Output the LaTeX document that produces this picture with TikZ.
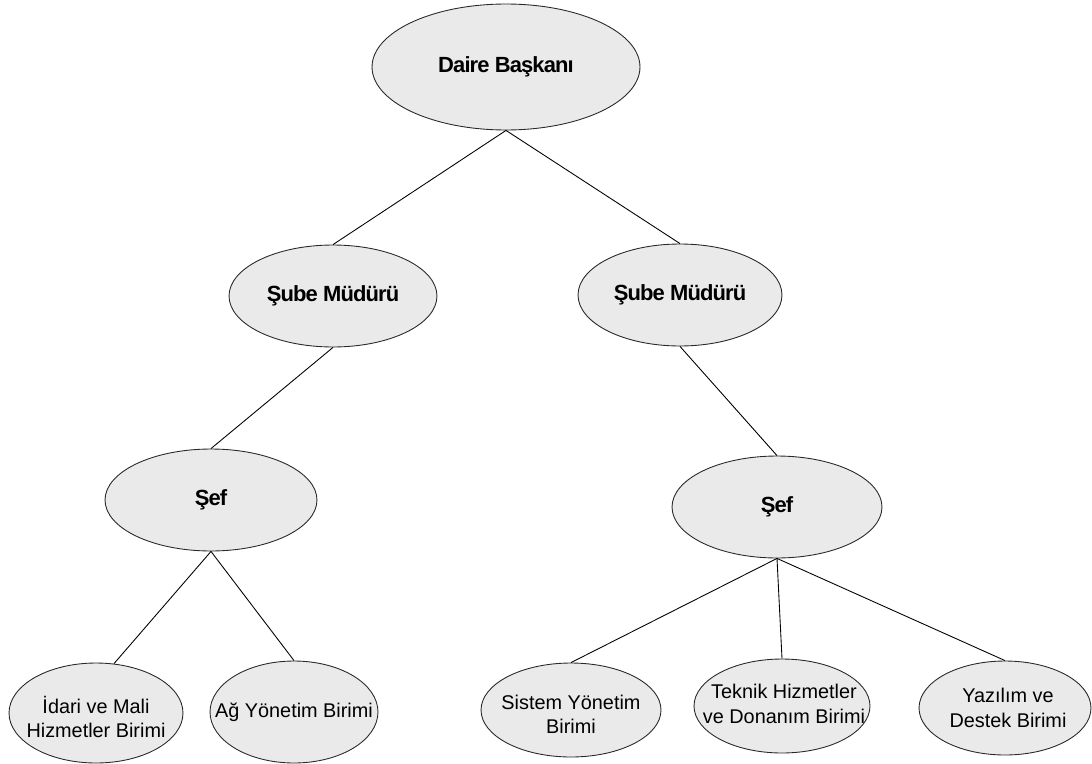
\documentclass[tikz,border=0pt]{standalone}
\usepackage{fontspec}
\setmainfont{Liberation Sans}
\newfontfamily\headfont[LetterSpace=-4]{Liberation Sans}
\usepackage{tikz}
\usetikzlibrary{shapes.geometric}
\definecolor{boxgrey}{RGB}{234,234,234}
\definecolor{edgegrey}{RGB}{40,40,40}

\tikzset{
  unit/.style={ellipse, draw=edgegrey, fill=boxgrey, inner sep=0pt, line width=0.5pt},
  head/.style={font=\headfont\fontsize{12.5}{14}\selectfont\bfseries},
  body/.style={font=\fontsize{11.3}{13.8}\selectfont, align=center},
  link/.style={draw=black, line width=0.5pt}
}

\begin{document}
\begin{tikzpicture}[x=0.02cm, y=-0.02cm]
    \useasboundingbox[fill=white] (0,0) rectangle (1092,764);
    % ellipses
    \node[unit, minimum width=5.36cm, minimum height=2.52cm] (daire) at (506,67) {};
    \node[unit, minimum width=4.16cm, minimum height=2.04cm] (sube1) at (333,296) {};
    \node[unit, minimum width=4.08cm, minimum height=2.04cm] (sube2) at (680,295) {};
    \node[unit, minimum width=4.24cm, minimum height=2.04cm] (sef1) at (211,500) {};
    \node[unit, minimum width=4.20cm, minimum height=2.04cm] (sef2) at (777,507) {};
    \node[unit, minimum width=3.48cm, minimum height=2.00cm] (idari) at (96,713) {};
    \node[unit, minimum width=3.36cm, minimum height=2.04cm] (ag) at (294,712) {};
    \node[unit, minimum width=3.60cm, minimum height=1.88cm] (sistem) at (571,710) {};
    \node[unit, minimum width=3.52cm, minimum height=1.88cm] (teknik) at (782,706) {};
    \node[unit, minimum width=3.44cm, minimum height=1.88cm] (yazilim) at (1005,708) {};
    % texts
    \node[head] (daire-t) at (daire) {Daire Başkanı};
    \node[head] (sube1-t) at (sube1) {Şube Müdürü};
    \node[head] (sube2-t) at (sube2) {Şube Müdürü};
    \node[head] (sef1-t) at (sef1) {Şef};
    \node[head] (sef2-t) at (sef2) {Şef};
    \node[body] (idari-t) at (96,717) {İdari ve Mali\\Hizmetler Birimi};
    \node[body] (ag-t) at (ag) {Ağ Yönetim Birimi};
    \node[body] (sistem-t) at (571,714) {Sistem Yönetim\\Birimi};
    \node[body] (teknik-t) at (784,704) {Teknik Hizmetler\\ve Donanım Birimi};
    \node[body] (yazilim-t) at (1008,708) {Yazılım ve\\Destek Birimi};
    % links
    \foreach \a/\b in {daire/sube1, daire/sube2, sube1/sef1, sube2/sef2,
                       sef1/ag, sef2/sistem, sef2/teknik, sef2/yazilim}
      \draw[link] (\a.south) -- (\b.north);
    \draw[link] (sef1.south) -- (idari.70);
\end{tikzpicture}
\end{document}
